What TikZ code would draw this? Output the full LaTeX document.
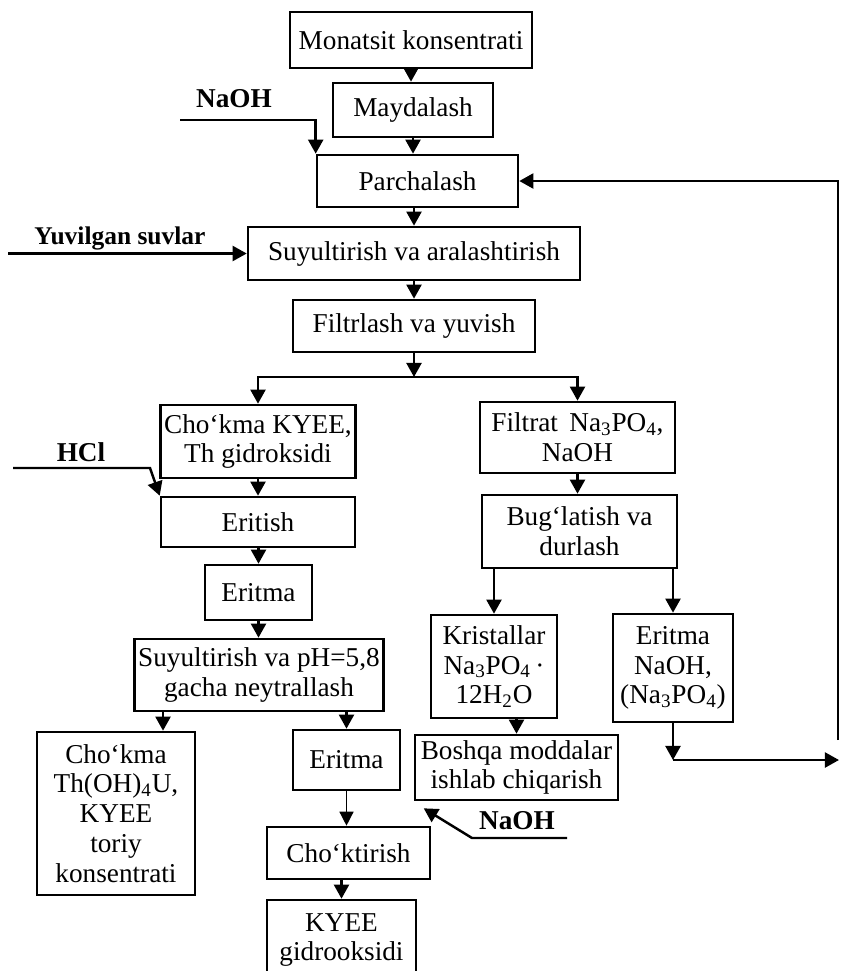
\documentclass[tikz,border=0pt]{standalone}
\usepackage{fontspec}
\setmainfont{Liberation Serif}
\usetikzlibrary{positioning, arrows.meta}

\begin{document}
\begin{tikzpicture}[
        x=0.02cm, y=-0.02cm,
        box/.style={draw, rectangle, line width=1.5pt, align=center, inner sep=2pt, font=\fontsize{15.5}{17}\selectfont},
        label_text/.style={font=\fontsize{15.5}{17}\selectfont\bfseries},
        arrow/.style={-{Triangle[length=8pt, width=8.5pt]}, line width=1.4pt},
        thin_arrow/.style={-{Triangle[length=8pt, width=8pt]}, line width=0.8pt}
    ]
        \clip (0,0) rectangle (840,971);

        % main line
        \node[box, minimum width=4.84cm, minimum height=1.12cm] (monatsit) at (411,40) {Monatsit konsentrati};
        \node[box, minimum width=3.2cm, minimum height=1.08cm] (maydalash) at (413,110) {Maydalash};
        \node[box, minimum width=4.02cm, minimum height=1.04cm] (parchalash) at (417.5,181) {Parchalash};
        \node[box, minimum width=6.64cm, minimum height=1.06cm] (suyultirish) at (414,253.5) {Suyultirish va aralashtirish};
        \node[box, minimum width=4.84cm, minimum height=1.04cm] (filtrlash) at (414,326) {Filtrlash va yuvish};

        % left branch
        \node[box, minimum width=3.88cm, minimum height=1.46cm] (chokma_th) at (258,441.5) {Cho‘kma KYEE,\\Th gidroksidi};
        \node[box, minimum width=3.88cm, minimum height=1.0cm] (eritish) at (258,522) {Eritish};
        \node[box, minimum width=2.14cm, minimum height=1.1cm] (eritma_a) at (258.5,592.5) {Eritma};
        \node[box, minimum width=4.96cm, minimum height=1.44cm] (neytral) at (259,675) {Suyultirish va pH=5,8\\gacha neytrallash};
        \node[box, minimum width=3.16cm, minimum height=3.26cm] (toriy) at (116,813.5) {Cho‘kma\\Th(OH)\textsubscript{4}U,\\KYEE\\toriy\\konsentrati};
        \node[box, minimum width=2.14cm, minimum height=1.2cm] (eritma_b) at (346.5,760) {Eritma};
        \node[box, minimum width=3.26cm, minimum height=1.04cm] (choktirish) at (348.5,853) {Cho‘ktirish};
        \node[box, minimum width=2.98cm, minimum height=1.6cm] (kyee) at (341.5,940) {KYEE\\gidrooksidi};

        % right branch
        \node[box, minimum width=3.9cm, minimum height=1.42cm] (filtrat) at (577.5,437.5) {Filtrat\, Na\textsubscript{3}PO\textsubscript{4},\\NaOH};
        \node[box, minimum width=3.9cm, minimum height=1.46cm] (buglatish) at (579.5,531.5) {Bug‘latish va\\durlash};
        \node[box, minimum width=2.52cm, minimum height=2.06cm] (kristallar) at (494,666.5) {Kristallar\\Na\textsubscript{3}PO\textsubscript{4}\,·\\12H\textsubscript{2}O};
        \node[box, minimum width=2.4cm, minimum height=2.16cm] (eritma_c) at (673,668) {Eritma\\NaOH,\\(Na\textsubscript{3}PO\textsubscript{4})};
        \node[box, minimum width=4.06cm, minimum height=1.3cm] (boshqa) at (516.5,767.5) {Boshqa moddalar\\ishlab chiqarish};

        % reagents
        \node[label_text] (naoh_top) at (234,99) {NaOH};
        \node[label_text, font=\fontsize{14.5}{16}\selectfont\bfseries] (suvlar) at (120,238) {Yuvilgan suvlar};
        \node[label_text] (hcl) at (81,452) {HCl};
        \node[label_text] (naoh_low) at (517,821) {NaOH};

        \coordinate (naoh_top_in) at (180,120);
        \coordinate (suvlar_in) at (8,253.5);
        \coordinate (hcl_in) at (13,468);
        \coordinate (hcl_bend) at (150,468);
        \coordinate (naoh_low_in) at (567,838);
        \coordinate (naoh_low_bend) at (472,838);
        \coordinate (split) at (414,377);
        \coordinate (ret_corner) at (673,760);
        \coordinate (ret_end) at (839,760);
        \coordinate (ret_bottom) at (838,740);

        \draw[arrow] (monatsit.south) -- (monatsit.south |- maydalash.north);
        \draw[arrow] (maydalash.south) -- (maydalash.south |- parchalash.north);
        \draw[arrow] (naoh_top_in) -| (parchalash.north west);
        \draw[arrow] (parchalash.south -| suyultirish.north) -- (suyultirish.north);
        \draw[arrow] (suvlar_in) -- (suyultirish.west);
        \draw[arrow] (suyultirish.south) -- (filtrlash.north);
        \draw[arrow] (filtrlash.south) -- (split);
        \draw[arrow] (split) -| (chokma_th.north);
        \draw[arrow] (split) -| (filtrat.north);

        \draw[arrow] (chokma_th.south) -- (eritish.north);
        \draw[arrow] (hcl_in) -- (hcl_bend) -- (eritish.north west);
        \draw[arrow] (eritish.south -| eritma_a.north) -- (eritma_a.north);
        \draw[arrow] (eritma_a.south) -- (eritma_a.south |- neytral.north);
        \draw[arrow] ([xshift=-1.92cm]neytral.south) -- ([xshift=-1.92cm]neytral.south |- toriy.north);
        \draw[arrow] (neytral.south -| eritma_b.north) -- (eritma_b.north);
        \draw[thin_arrow] (eritma_b.south) -- (eritma_b.south |- choktirish.north);
        \draw[arrow] (choktirish.south -| kyee.north) -- (kyee.north);

        \draw[arrow] (filtrat.south) -- (filtrat.south |- buglatish.north);
        \draw[arrow] (kristallar.north |- buglatish.south) -- (kristallar.north);
        \draw[arrow] (eritma_c.north |- buglatish.south) -- (eritma_c.north);
        \draw[arrow] (kristallar.south -| boshqa.north) -- (boshqa.north);
        \draw[arrow] (naoh_low_in) -- (naoh_low_bend) -- ([shift={(0.2cm,-0.14cm)}]boshqa.south west);

        % return of the solution
        \draw[arrow] (eritma_c.south) -- (ret_corner);
        \draw[arrow] (ret_corner) -- (ret_end);
        \draw[arrow] (ret_bottom) |- (parchalash.east);

    \end{tikzpicture}
\end{document}
